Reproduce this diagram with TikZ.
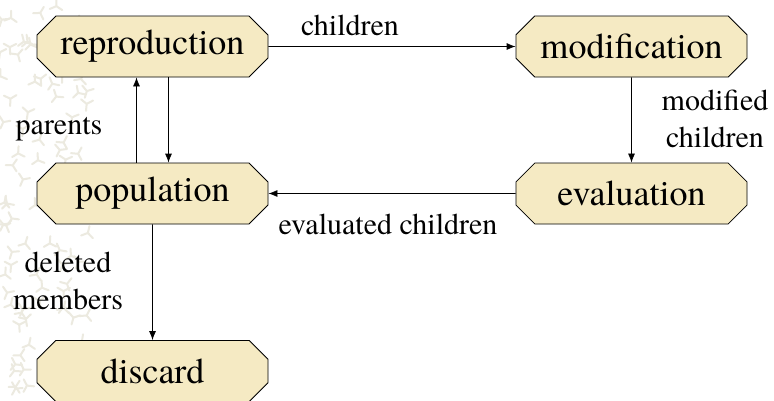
\documentclass[tikz,border=0pt]{standalone}
\usepackage{fontspec}
\setmainfont{TeX Gyre Termes}
\newfontfamily\slidefont{TeX Gyre Termes}
\usetikzlibrary{shapes.misc, arrows.meta}

\definecolor{boxfill}{RGB}{245,234,195}
\definecolor{texture}{RGB}{236,234,224}

\tikzset{
    stage/.style={chamfered rectangle, chamfered rectangle xsep=16pt, draw, fill=boxfill,
        line width=0.8pt, minimum width=231pt, minimum height=61pt,
        font=\slidefont\fontsize{36}{43}\selectfont},
    flow/.style={->, >={Latex[length=9pt,width=7pt]}, line width=0.8pt},
    tag/.style={font=\slidefont\fontsize{30}{37}\selectfont, align=center}
}

\begin{document}
\begin{tikzpicture}[x=1pt,y=-1pt]
    \clip (0,0) rectangle (774,400);
    \fill [white] (0,0) rectangle (774,400);
    % faint background pattern on the left
    \pgfmathsetseed{7}
    \foreach \i in {1,...,90} {
        \pgfmathsetmacro{\tx}{rnd*88}
        \pgfmathsetmacro{\ty}{rnd*400}
        \pgfmathsetmacro{\ta}{rnd*360}
        \draw [texture, line width=2pt, line cap=round, rotate around={\ta:(\tx,\ty)}]
            (\tx,\ty) -- ++(0,-7) (\tx,\ty) -- ++(6,4) (\tx,\ty) -- ++(-6,4);
    }

    \node [stage] (repro) at (152.5,46.5) {reproduction};
    \node [stage] (modif) at (631.5,46.5) {modification};
    \node [stage] (popul) at (152.5,193.5) {population};
    \node [stage] (evalu) at (631.5,193.5) {evaluation};
    \node [stage] (disc) at (152.5,371) {discard};

    \draw [flow] (repro) -- (modif);
    \draw [flow] (modif) -- (evalu);
    \draw [flow] (evalu) -- (popul);
    \draw [flow] ([xshift=-16pt]popul.north) -- ([xshift=-16pt]repro.south);
    \draw [flow] ([xshift=16pt]repro.south) -- ([xshift=16pt]popul.north);
    \draw [flow] (popul) -- (disc);

    \node [tag] (lchild) at (350,25) {children};
    \node [tag] (lmod) at (715,119) {modified\\children};
    \node [tag] (leval) at (388,224.5) {evaluated children};
    \node [tag] (lpar) at (59,129) {parents};
    \node [tag] (ldel) at (68,281) {deleted\\members};
\end{tikzpicture}
\end{document}
